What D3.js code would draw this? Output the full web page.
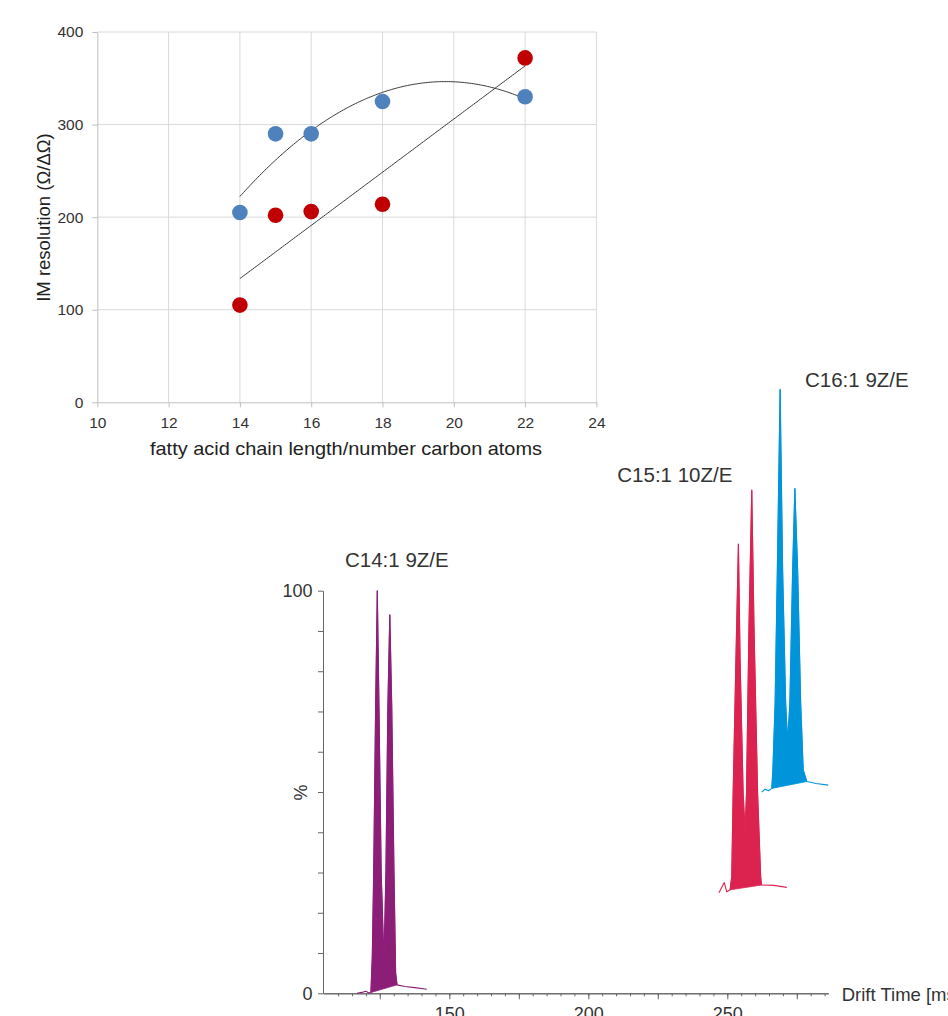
<!DOCTYPE html>
<html>
<head>
<meta charset="utf-8">
<script src="https://cdn.jsdelivr.net/npm/d3@7"></script>
<style>
  body { margin: 0; background: #fff; }
  svg { display: block; }
  text { font-family: "Liberation Sans", Arial, sans-serif; }
</style>
</head>
<body>
<svg id="chart" width="948" height="1016"></svg>
<script>
// ---- top chart data (IM resolution vs chain length)
const chainLength = [14, 15, 16, 18, 22];
const resolutionBlue = [205, 290, 290, 325, 330];
const resolutionRed = [105, 202, 206, 214, 372];
const topXTicks = [10, 12, 14, 16, 18, 20, 22, 24];
const topYTicks = [0, 100, 200, 300, 400];

// ---- bottom chart data (drift time [ms], intensity %)
const traceNames = ["C14:1 9Z/E", "C15:1 10Z/E", "C16:1 9Z/E"];
const c14Trace = [[116.8, 0], [119.0, 0.3], [120.0, 0.5], [121.1, 0.1], [121.8, 0.2],
  [122.3, 9.1], [122.8, 29.9], [123.5, 71.2], [124.1, 100], [124.7, 71.2], [125.5, 29.9],
  [126.5, 7.8], [127.2, 29.9], [127.9, 71.2], [128.6, 94.0], [129.3, 71.2], [130.1, 29.9],
  [130.7, 5.0], [131.2, 2.1], [134.0, 1.7], [137.6, 1.4], [141.9, 1.0]];
const c15Trace = [[247.0, 0], [248.9, 2.5], [249.8, 0.2], [251.0, 0.7], [251.6, 4.0],
  [252.1, 24.6], [253.1, 57.8], [254.0, 86.6], [254.6, 57.8], [255.7, 24.7], [256.4, 15.1],
  [256.9, 24.7], [257.8, 66.1], [258.8, 100], [259.6, 66.1], [260.9, 24.7], [262.0, 4.0],
  [262.3, 1.9], [266.8, 1.8], [271.4, 1.3]];
const c16Trace = [[262.4, 0], [263.6, 0.7], [264.8, 0.3], [266.0, 0.9], [266.4, 5.5],
  [267.2, 22.0], [268.0, 55.1], [269.0, 100], [269.9, 55.1], [271.0, 22.0], [271.7, 12.5],
  [272.5, 22.0], [273.5, 55.1], [274.3, 75.4], [275.3, 55.1], [276.4, 22.0], [277.3, 5.5],
  [278.6, 2.6], [281.9, 2.1], [286.3, 1.7]];
const traceOffset = [0, 25, 50];           // stacked offset, % units
const fillRange = [[121.8, 131.2], [251.0, 262.3], [266.0, 278.6]];
const driftMinorTicks = d3.range(110, 286, 5);
const driftMajorTicks = [125, 150, 175, 200, 225, 250, 275];
const percentTicks = [0, 10, 20, 30, 40, 50, 60, 70, 80, 90, 100];

const svg = d3.select("#chart");

// ================= top chart =================
const x1 = d3.scaleLinear().domain([10, 24]).range([97.3, 596.4]);
const y1 = d3.scaleLinear().domain([0, 400]).range([402.3, 32]);

svg.append("g")
  .selectAll("line")
  .data(topXTicks.slice(1))
  .join("line")
  .attr("x1", d => x1(d)).attr("x2", d => x1(d))
  .attr("y1", y1(0)).attr("y2", y1(400))
  .attr("stroke", "#d9d9d9");
svg.append("g")
  .selectAll("line")
  .data(topYTicks.slice(1))
  .join("line")
  .attr("x1", x1(10)).attr("x2", x1(24))
  .attr("y1", d => y1(d)).attr("y2", d => y1(d))
  .attr("stroke", "#d9d9d9");

const topXAxis = svg.append("g")
  .attr("transform", `translate(0,${y1(0)})`)
  .call(d3.axisBottom(x1).tickValues(topXTicks).tickSize(5).tickSizeOuter(0).tickPadding(9.5));
const topYAxis = svg.append("g")
  .attr("transform", `translate(${x1(10)},0)`)
  .call(d3.axisLeft(y1).tickValues(topYTicks).tickSize(5).tickSizeOuter(0).tickPadding(9));
[topXAxis, topYAxis].forEach(g => {
  g.select(".domain").attr("stroke", "#bfbfbf");
  g.selectAll(".tick line").attr("stroke", "#bfbfbf");
  g.selectAll(".tick text")
    .attr("font-family", "'Liberation Sans', Arial, sans-serif")
    .attr("font-size", 15.5).attr("fill", "#333");
});

// least squares polynomial fit (degree 1 or 2), like Excel trendlines
function polyFit(xs, ys, deg) {
  const n = deg + 1;
  const A = d3.range(n).map(i => d3.range(n).map(j => d3.sum(xs, x => Math.pow(x, i + j))));
  const b = d3.range(n).map(i => d3.sum(xs, (x, k) => Math.pow(x, i) * ys[k]));
  for (let c = 0; c < n; c++) {
    for (let r = c + 1; r < n; r++) {
      const f = A[r][c] / A[c][c];
      for (let k = c; k < n; k++) A[r][k] -= f * A[c][k];
      b[r] -= f * b[c];
    }
  }
  const coef = new Array(n).fill(0);
  for (let r = n - 1; r >= 0; r--) {
    let s = b[r];
    for (let k = r + 1; k < n; k++) s -= A[r][k] * coef[k];
    coef[r] = s / A[r][r];
  }
  return x => coef.reduce((acc, c, i) => acc + c * Math.pow(x, i), 0);
}

const fitBlue = polyFit(chainLength, resolutionBlue, 2);
const fitRed = polyFit(chainLength, resolutionRed, 1);
const fitX = d3.range(14, 22.0001, 0.05);
const fitLine = d3.line().x(d => x1(d[0])).y(d => y1(d[1]));

svg.append("path")
  .datum(fitX.map(x => [x, fitBlue(x)]))
  .attr("fill", "none").attr("stroke", "#3a3a3a").attr("stroke-width", 1)
  .attr("d", fitLine);
svg.append("path")
  .datum(fitX.map(x => [x, fitRed(x)]))
  .attr("fill", "none").attr("stroke", "#3a3a3a").attr("stroke-width", 1)
  .attr("d", fitLine);

svg.append("g")
  .selectAll("circle")
  .data(chainLength.map((x, i) => [x, resolutionBlue[i]]))
  .join("circle")
  .attr("cx", d => x1(d[0])).attr("cy", d => y1(d[1])).attr("r", 7.8)
  .attr("fill", "#4f81bd");
svg.append("g")
  .selectAll("circle")
  .data(chainLength.map((x, i) => [x, resolutionRed[i]]))
  .join("circle")
  .attr("cx", d => x1(d[0])).attr("cy", d => y1(d[1])).attr("r", 7.8)
  .attr("fill", "#c00000");

svg.append("text")
  .attr("transform", "translate(50,217.5) rotate(-90)")
  .attr("text-anchor", "middle")
  .attr("font-size", 18.5).attr("fill", "#222")
  .text("IM resolution (Ω/ΔΩ)");

svg.append("text")
  .attr("x", 346).attr("y", 455)
  .attr("text-anchor", "middle")
  .attr("font-family", "Lato, 'Open Sans', sans-serif")
  .attr("font-size", 18.5).attr("fill", "#222")
  .attr("textLength", 392).attr("lengthAdjust", "spacingAndGlyphs")
  .text("fatty acid chain length/number carbon atoms");

// ================= bottom chart =================
const x2 = d3.scaleLinear().domain([104.57, 286.33]).range([323, 828.3]);
const y2 = d3.scaleLinear().domain([0, 100]).range([993.3, 590.7]);
const axisColor = "#666";

const minorAxis = svg.append("g")
  .attr("transform", `translate(0,${y2(0)})`)
  .call(d3.axisBottom(x2).tickValues(driftMinorTicks).tickSize(3).tickSizeOuter(0).tickFormat(""));
const majorAxis = svg.append("g")
  .attr("transform", `translate(0,${y2(0)})`)
  .call(d3.axisBottom(x2).tickValues(driftMajorTicks).tickSize(6).tickSizeOuter(0).tickPadding(7.5)
    .tickFormat(d => (d % 50 === 0 ? d : "")));
const pctAxis = svg.append("g")
  .attr("transform", `translate(${x2.range()[0]},0)`)
  .call(d3.axisLeft(y2).tickValues(percentTicks).tickSize(5).tickSizeOuter(0).tickPadding(5.5)
    .tickFormat(d => (d === 0 || d === 100 ? d : "")));
[minorAxis, majorAxis, pctAxis].forEach(g => {
  g.select(".domain").attr("stroke", axisColor);
  g.selectAll(".tick line").attr("stroke", axisColor);
  g.selectAll(".tick text")
    .attr("font-family", "'Liberation Sans', Arial, sans-serif")
    .attr("font-size", 18).attr("fill", "#333");
});

svg.append("text")
  .attr("transform", "translate(307,792.5) rotate(-90)")
  .attr("text-anchor", "middle")
  .attr("font-size", 18).attr("fill", "#333")
  .text("%");

svg.append("text")
  .attr("x", 841.7).attr("y", 1001)
  .attr("font-size", 18.5).attr("fill", "#333")
  .text("Drift Time [ms]");

const traces = [c14Trace, c15Trace, c16Trace];
const traceColors = ["#8c1e78", "#dc2350", "#0095db"];
const labelPos = [[345, 566.7], [617.3, 481.7], [805, 386.7]];

traces.forEach((tr, i) => {
  const line = d3.line()
    .x(d => x2(d[0]))
    .y(d => y2(d[1] + traceOffset[i]));
  const inFill = tr.filter(d => d[0] >= fillRange[i][0] && d[0] <= fillRange[i][1]);
  svg.append("path")
    .datum(inFill)
    .attr("fill", traceColors[i])
    .attr("stroke", traceColors[i]).attr("stroke-width", 0.8)
    .attr("stroke-linejoin", "round")
    .attr("d", d => line(d) + "Z");
  svg.append("path")
    .datum(tr)
    .attr("fill", "none")
    .attr("stroke", traceColors[i]).attr("stroke-width", 1.1)
    .attr("stroke-linejoin", "round")
    .attr("d", line);
  svg.append("text")
    .attr("x", labelPos[i][0]).attr("y", labelPos[i][1])
    .attr("font-size", 20.5).attr("fill", "#333")
    .text(traceNames[i]);
});
</script>
</body>
</html>
